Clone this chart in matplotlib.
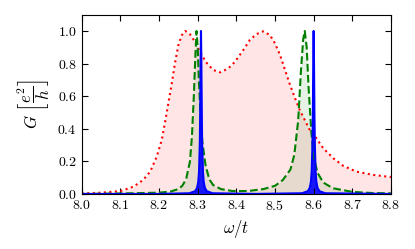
import matplotlib
matplotlib.use("Agg")
import matplotlib.pyplot as plt

plt.rcParams['mathtext.fontset'] = 'cm'
plt.rcParams['font.family'] = 'serif'
plt.rcParams['font.serif'] = ['cmr10']
plt.rcParams['axes.formatter.use_mathtext'] = True

# red dotted curve (broad)
x_red = [8.00, 8.05, 8.10, 8.134, 8.159, 8.177, 8.194, 8.207, 8.215, 8.224,
         8.233, 8.241, 8.250, 8.259, 8.268, 8.280, 8.293, 8.306, 8.321, 8.340,
         8.358, 8.379, 8.396, 8.418, 8.435, 8.452, 8.470, 8.487, 8.500, 8.513,
         8.526, 8.539, 8.552, 8.564, 8.577, 8.590, 8.607, 8.625, 8.651, 8.677,
         8.711, 8.754, 8.800]
y_red = [0.003, 0.008, 0.018, 0.045, 0.086, 0.137, 0.229, 0.331, 0.434, 0.556,
         0.679, 0.800, 0.914, 0.975, 1.000, 0.980, 0.934, 0.873, 0.810, 0.761,
         0.746, 0.770, 0.810, 0.883, 0.945, 0.981, 0.998, 0.975, 0.924, 0.853,
         0.761, 0.669, 0.587, 0.515, 0.454, 0.393, 0.342, 0.280, 0.219, 0.172,
         0.137, 0.117, 0.104]

# green dashed curve (two peaks)
x_green = [8.00, 8.10, 8.20, 8.23, 8.25, 8.26, 8.27, 8.28, 8.285, 8.29,
           8.294, 8.297, 8.300, 8.303, 8.307, 8.312, 8.32, 8.33, 8.34, 8.36,
           8.39, 8.43, 8.47, 8.50, 8.52, 8.54, 8.55, 8.56, 8.567, 8.573,
           8.577, 8.582, 8.587, 8.594, 8.60, 8.61, 8.625, 8.65, 8.70, 8.75, 8.80]
y_green = [0.0, 0.003, 0.008, 0.015, 0.03, 0.05, 0.09, 0.2, 0.35, 0.6,
           0.85, 1.0, 0.9, 0.7, 0.5, 0.32, 0.18, 0.09, 0.055, 0.03,
           0.018, 0.018, 0.03, 0.05, 0.085, 0.15, 0.24, 0.45, 0.75, 0.95,
           1.0, 0.9, 0.65, 0.38, 0.23, 0.13, 0.07, 0.035, 0.013, 0.006, 0.004]

# blue solid curve (very narrow peaks)
x_blue = [8.00, 8.20, 8.2785, 8.2935, 8.2985, 8.3015, 8.3035, 8.3055, 8.3065,
          8.3075, 8.3085, 8.3095, 8.3105, 8.3115, 8.3135, 8.3155, 8.3185,
          8.3235, 8.3385, 8.45, 8.57, 8.585, 8.590, 8.593, 8.595, 8.597,
          8.598, 8.599, 8.600, 8.601, 8.602, 8.603, 8.605, 8.607, 8.610,
          8.615, 8.630, 8.80]
y_blue = [0.0001, 0.0003, 0.0044, 0.017, 0.038, 0.075, 0.138, 0.31, 0.5,
          0.8, 1.0, 0.8, 0.5, 0.31, 0.138, 0.075, 0.038,
          0.017, 0.0044, 0.0004, 0.0044, 0.017, 0.038, 0.075, 0.138, 0.31,
          0.5, 0.8, 1.0, 0.8, 0.5, 0.31, 0.138, 0.075, 0.038,
          0.017, 0.0044, 0.0001]

fig = plt.figure(figsize=(4.15, 2.49), dpi=100)
ax = fig.add_axes([0.197, 0.221, 0.745, 0.72])

ax.fill_between(x_red, 0, y_red, color='r', alpha=0.1, lw=0)
ax.plot(x_red, y_red, 'r:', lw=1.5)
ax.fill_between(x_green, 0, y_green, color='g', alpha=0.1, lw=0)
ax.plot(x_green, y_green, 'g--', lw=1.5)
ax.fill_between(x_blue, 0, y_blue, color='b', alpha=0.9, lw=0)
ax.plot(x_blue, y_blue, 'b-', lw=1.5)

ax.set_xlim(8.0, 8.8)
ax.set_ylim(0, 1.1)
ax.set_xticks([8.0, 8.1, 8.2, 8.3, 8.4, 8.5, 8.6, 8.7, 8.8])
ax.set_yticks([0.0, 0.2, 0.4, 0.6, 0.8, 1.0])
ax.tick_params(direction='in', top=True, right=True, length=4, labelsize=10)
ax.set_xlabel(r'$\omega/t$', fontsize=12)
ax.set_ylabel(r'$G\ \left[\dfrac{e^2}{h}\right]$', fontsize=12)

fig.savefig('out.png', dpi=100)
